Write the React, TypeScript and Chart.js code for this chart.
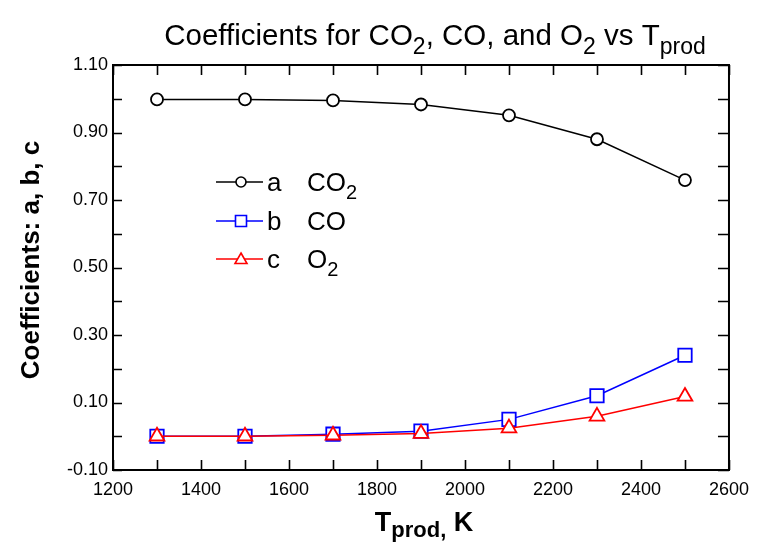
import React, { useEffect, useRef } from "react";
import { Chart, registerables } from "chart.js";

Chart.register(...registerables);

// ---- data ----
const temperatures = [1300, 1500, 1700, 1900, 2100, 2300, 2500];
const coefA = [0.998, 0.998, 0.995, 0.983, 0.951, 0.88, 0.759];
const coefB = [0.0, 0.0, 0.006, 0.015, 0.05, 0.12, 0.24];
const coefC = [0.0, 0.0, 0.003, 0.008, 0.024, 0.059, 0.118];

const xTickLabels = [1200, 1400, 1600, 1800, 2000, 2200, 2400, 2600];
const xMinorTicks = [1200, 1300, 1400, 1500, 1600, 1700, 1800, 1900, 2000, 2100, 2200, 2300, 2400, 2500, 2600];
const yTickLabels = [-0.1, 0.1, 0.3, 0.5, 0.7, 0.9, 1.1];
const yMinorTicks = [-0.1, 0.0, 0.1, 0.2, 0.3, 0.4, 0.5, 0.6, 0.7, 0.8, 0.9, 1.0, 1.1];

const seriesNames = ["a", "b", "c"];
const seriesSpecies = [
  [{ t: "CO" }, { t: "2", sub: true }],
  [{ t: "CO" }],
  [{ t: "O" }, { t: "2", sub: true }],
];
const seriesColors = ["#000000", "#0000ff", "#ff0000"];
const seriesMarkers = ["circle", "rect", "triangle"];

const FONT = "'Liberation Sans', Arial, Helvetica, sans-serif";

type Seg = { t: string; sub?: boolean };

function drawRich(
  ctx: CanvasRenderingContext2D,
  segs: Seg[],
  x: number,
  y: number,
  size: number,
  bold: boolean,
  align: "left" | "center",
  subRatio = 0.74,
  subShift = 0.3
) {
  const w = bold ? "bold " : "";
  const subSize = Math.round(size * subRatio);
  let total = 0;
  for (const s of segs) {
    ctx.font = `${w}${s.sub ? subSize : size}px ${FONT}`;
    total += ctx.measureText(s.t).width;
  }
  let cx = align === "center" ? x - total / 2 : x;
  ctx.textAlign = "left";
  ctx.textBaseline = "alphabetic";
  for (const s of segs) {
    ctx.font = `${w}${s.sub ? subSize : size}px ${FONT}`;
    ctx.fillText(s.t, cx, s.sub ? y + size * subShift : y);
    cx += ctx.measureText(s.t).width;
  }
}

const decorPlugin = {
  id: "decor",
  afterDraw(chart: any) {
    const ctx: CanvasRenderingContext2D = chart.ctx;
    const { left, right, top, bottom } = chart.chartArea;
    const xs = chart.scales.x;
    const ys = chart.scales.y;
    ctx.save();
    ctx.fillStyle = "#000";
    ctx.strokeStyle = "#000";
    // frame
    ctx.lineWidth = 2;
    ctx.strokeRect(left, top, right - left, bottom - top);
    // inward ticks
    ctx.lineWidth = 1.6;
    ctx.beginPath();
    for (const v of xMinorTicks) {
      const px = Math.round(xs.getPixelForValue(v)) + 0.5;
      ctx.moveTo(px, bottom);
      ctx.lineTo(px, bottom - 10);
      ctx.moveTo(px, top);
      ctx.lineTo(px, top + 10);
    }
    for (const v of yMinorTicks) {
      const py = Math.round(ys.getPixelForValue(v)) + 0.5;
      ctx.moveTo(left, py);
      ctx.lineTo(left + 9, py);
      ctx.moveTo(right, py);
      ctx.lineTo(right - 11, py);
    }
    ctx.stroke();

    // title
    drawRich(
      ctx,
      [
        { t: "Coefficients for CO" },
        { t: "2", sub: true },
        { t: ", CO, and O" },
        { t: "2", sub: true },
        { t: " vs T" },
        { t: "prod", sub: true },
      ],
      435,
      45,
      29.5,
      false,
      "center",
      0.78,
      0.3
    );

    // x axis title
    drawRich(ctx, [{ t: "T" }, { t: "prod,", sub: true }, { t: " K" }], 424, 531, 27, true, "center", 0.8, 0.22);

    // y axis title
    ctx.save();
    ctx.translate(39, 260);
    ctx.rotate(-Math.PI / 2);
    drawRich(ctx, [{ t: "Coefficients: a, b, c" }], 0, 0, 26, true, "center");
    ctx.restore();

    // legend
    const rows = [182, 221, 259];
    for (let i = 0; i < 3; i++) {
      const y = rows[i];
      ctx.strokeStyle = seriesColors[i];
      ctx.lineWidth = 1.6;
      ctx.beginPath();
      ctx.moveTo(216, y);
      ctx.lineTo(263, y);
      ctx.stroke();
      ctx.fillStyle = "#fff";
      ctx.beginPath();
      if (seriesMarkers[i] === "circle") {
        ctx.arc(241, y, 5, 0, Math.PI * 2);
      } else if (seriesMarkers[i] === "rect") {
        ctx.rect(235.5, y - 5.5, 11, 11);
      } else {
        ctx.moveTo(241, y - 6);
        ctx.lineTo(247, y + 4.5);
        ctx.lineTo(235, y + 4.5);
        ctx.closePath();
      }
      ctx.fill();
      ctx.stroke();
      ctx.fillStyle = "#000";
      drawRich(ctx, [{ t: seriesNames[i] }], 267, y + 9, 26, false, "left");
      drawRich(ctx, seriesSpecies[i], 307, y + 9, 26, false, "left", 0.78, 0.3);
    }
    ctx.restore();
  },
};

export default function App() {
  const ref = useRef<HTMLCanvasElement | null>(null);
  useEffect(() => {
    if (!ref.current) return;
    const mk = (i: number, data: number[], r: number, order: number) => ({
      label: seriesNames[i],
      data: temperatures.map((t, k) => ({ x: t, y: data[k] })),
      borderColor: seriesColors[i],
      backgroundColor: "#ffffff",
      borderWidth: 1.5,
      pointStyle: seriesMarkers[i],
      pointRadius: r,
      pointBorderWidth: 1.8,
      pointBackgroundColor: "#ffffff",
      pointBorderColor: seriesColors[i],
      tension: 0,
      order,
    });
    const chart = new Chart(ref.current, {
      type: "line",
      data: {
        datasets: [mk(0, coefA, 6, 2), mk(1, coefB, 9.5, 1), mk(2, coefC, 8.5, 0)],
      },
      options: {
        animation: false,
        responsive: false,
        maintainAspectRatio: false,
        layout: { padding: { top: 65, right: 23, left: 0, bottom: 0 } },
        plugins: { legend: { display: false }, title: { display: false }, tooltip: { enabled: false } },
        scales: {
          x: {
            type: "linear",
            min: 1200,
            max: 2600,
            grid: { display: false, drawTicks: false },
            border: { display: true, color: "#000", width: 2 },
            afterBuildTicks: (s: any) => {
              s.ticks = xTickLabels.map((v) => ({ value: v }));
            },
            afterFit: (s: any) => {
              s.height = 78;
            },
            ticks: {
              padding: 9,
              color: "#000",
              font: { family: FONT, size: 18 },
              callback: (v: any) => String(v),
              maxRotation: 0,
              autoSkip: false,
            },
          },
          y: {
            type: "linear",
            min: -0.1,
            max: 1.1,
            grid: { display: false, drawTicks: false },
            border: { display: true, color: "#000", width: 2 },
            afterBuildTicks: (s: any) => {
              s.ticks = yTickLabels.map((v) => ({ value: v }));
            },
            afterFit: (s: any) => {
              s.width = 113;
            },
            ticks: {
              padding: 5,
              color: "#000",
              font: { family: FONT, size: 18 },
              callback: (v: any) => Number(v).toFixed(2),
              autoSkip: false,
            },
          },
        },
      },
      plugins: [decorPlugin],
    } as any);
    return () => chart.destroy();
  }, []);
  return (
    <div style={{ position: "fixed", left: 0, top: 0, width: 758, height: 548, background: "#fff" }}>
      <canvas ref={ref} width={758} height={548} style={{ width: 758, height: 548, display: "block" }} />
    </div>
  );
}
